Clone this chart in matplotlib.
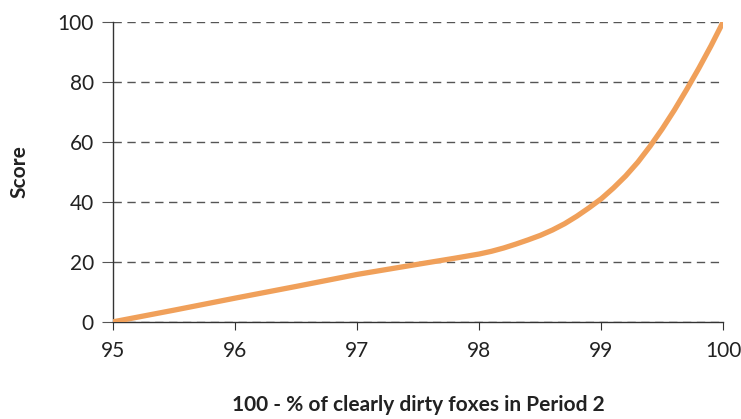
import matplotlib.pyplot as plt

# values
pct = [95, 95.5, 96, 96.5, 97, 97.5, 97.8, 98, 98.1, 98.2, 98.3, 98.4, 98.5, 98.6, 98.7,
       98.8, 98.9, 99, 99.1, 99.2, 99.3, 99.4, 99.5, 99.6, 99.7, 99.8, 99.9, 100]
score = [0, 3.9, 7.9, 11.8, 15.8, 19.2, 21.2, 22.6, 23.5, 24.6, 25.9, 27.3, 28.8, 30.6, 32.7,
         35.2, 38, 41, 44.6, 48.6, 53.2, 58.5, 64.3, 70.6, 77.4, 84.5, 92, 100]

plt.rcParams['font.family'] = ['Lato', 'DejaVu Sans']

fig = plt.figure(figsize=(7.41, 4.19), dpi=100)
ax = fig.add_axes([0.153, 0.232, 0.823, 0.716])

ax.plot(pct, score, color='#F0A05A', linewidth=3.8, solid_capstyle='round', zorder=3)

ax.set_xlim(95, 100)
ax.set_ylim(0, 100)
ax.set_xticks([95, 96, 97, 98, 99, 100])
ax.set_yticks([0, 20, 40, 60, 80, 100])

ax.yaxis.grid(True, linestyle=(0, (6, 4)), color='#555555', linewidth=1)
ax.set_axisbelow(True)

for s in ['top', 'right']:
    ax.spines[s].set_visible(False)
for s in ['left', 'bottom']:
    ax.spines[s].set_color('#333333')
    ax.spines[s].set_linewidth(1)

ax.tick_params(axis='y', length=8, color='#555555', labelsize=15, pad=6, labelcolor='#222222')
ax.tick_params(axis='x', length=6, color='#333333', labelsize=15, pad=8, labelcolor='#222222')

ax.set_xlabel('100 - % of clearly dirty foxes in Period 2', fontsize=15, fontweight='bold', color='#222222')
ax.set_ylabel('Score', fontsize=15, fontweight='bold', color='#222222')
ax.xaxis.set_label_coords(0.5, -0.243)
ax.yaxis.set_label_coords(-0.137, 0.5)

fig.savefig('out.png', dpi=100)
